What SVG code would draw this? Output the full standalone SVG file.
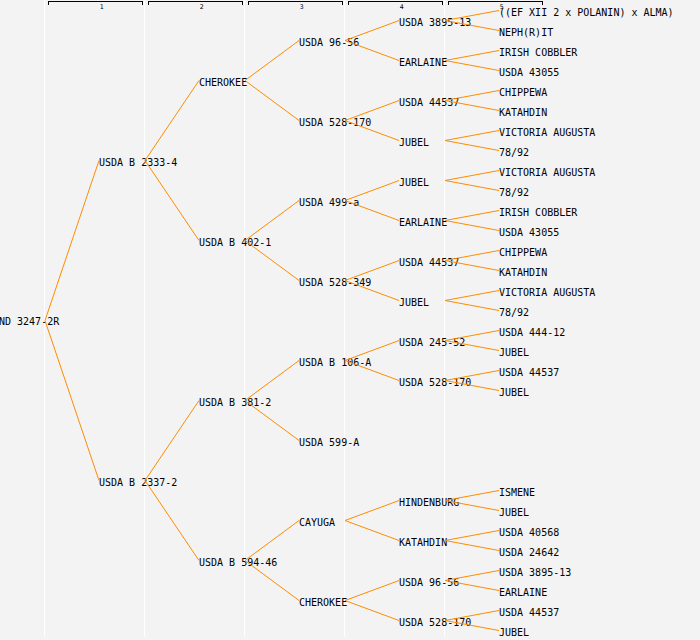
<svg xmlns="http://www.w3.org/2000/svg" width="700" height="640" viewBox="0 0 700 640">
<style>
.bg{fill:#f3f3f3}
.sep{stroke:#ffffff;stroke-width:1;shape-rendering:crispEdges}
.br{fill:none;stroke:#000;stroke-width:1;shape-rendering:crispEdges}
.hd{font-family:"DejaVu Sans Mono","Liberation Mono",monospace;font-size:6.5px;fill:#000;text-anchor:middle}
.n{font-family:"DejaVu Sans Mono","Liberation Mono",monospace;font-size:10px;fill:#000}
.c{stroke:#ff8c00;stroke-width:1;fill:none}
</style>
<rect class="bg" x="0" y="0" width="700" height="640"/>
<g id="separators">
<line class="sep" x1="44.5" y1="0" x2="44.5" y2="637"/>
<line class="sep" x1="144.5" y1="0" x2="144.5" y2="637"/>
<line class="sep" x1="244.5" y1="0" x2="244.5" y2="637"/>
<line class="sep" x1="344.5" y1="0" x2="344.5" y2="637"/>
<line class="sep" x1="444.5" y1="0" x2="444.5" y2="637"/>
</g>
<g id="headers">
<path class="br" d="M48.5,4.5V1.5H142.5V4.5"/><text class="hd" x="101.8" y="8.6">1</text>
<path class="br" d="M148.5,4.5V1.5H242.5V4.5"/><text class="hd" x="201.8" y="8.6">2</text>
<path class="br" d="M248.5,4.5V1.5H342.5V4.5"/><text class="hd" x="301.8" y="8.6">3</text>
<path class="br" d="M348.5,4.5V1.5H442.5V4.5"/><text class="hd" x="401.8" y="8.6">4</text>
<path class="br" d="M448.5,4.5V1.5H542.5V4.5"/><text class="hd" x="501.8" y="8.6">5</text>
</g>
<g id="n-root"><text class="n" x="-1" y="325">ND 3247-2R</text></g>
<g id="n-2-1"><text class="n" x="99" y="166">USDA B 2333-4</text></g>
<g id="n-2-2"><text class="n" x="99" y="486">USDA B 2337-2</text></g>
<g id="n-3-1"><text class="n" x="199" y="86">CHEROKEE</text></g>
<g id="n-3-2"><text class="n" x="199" y="246">USDA B 402-1</text></g>
<g id="n-3-3"><text class="n" x="199" y="406">USDA B 381-2</text></g>
<g id="n-3-4"><text class="n" x="199" y="566">USDA B 594-46</text></g>
<g id="n-4-1"><text class="n" x="299" y="46">USDA 96-56</text></g>
<g id="n-4-2"><text class="n" x="299" y="126">USDA 528-170</text></g>
<g id="n-4-3"><text class="n" x="299" y="206">USDA 499-a</text></g>
<g id="n-4-4"><text class="n" x="299" y="286">USDA 528-349</text></g>
<g id="n-4-5"><text class="n" x="299" y="366">USDA B 106-A</text></g>
<g id="n-4-6"><text class="n" x="299" y="446">USDA 599-A</text></g>
<g id="n-4-7"><text class="n" x="299" y="526">CAYUGA</text></g>
<g id="n-4-8"><text class="n" x="299" y="606">CHEROKEE</text></g>
<g id="n-5-1"><text class="n" x="399" y="26">USDA 3895-13</text></g>
<g id="n-5-2"><text class="n" x="399" y="66">EARLAINE</text></g>
<g id="n-5-3"><text class="n" x="399" y="106">USDA 44537</text></g>
<g id="n-5-4"><text class="n" x="399" y="146">JUBEL</text></g>
<g id="n-5-5"><text class="n" x="399" y="186">JUBEL</text></g>
<g id="n-5-6"><text class="n" x="399" y="226">EARLAINE</text></g>
<g id="n-5-7"><text class="n" x="399" y="266">USDA 44537</text></g>
<g id="n-5-8"><text class="n" x="399" y="306">JUBEL</text></g>
<g id="n-5-9"><text class="n" x="399" y="346">USDA 245-52</text></g>
<g id="n-5-10"><text class="n" x="399" y="386">USDA 528-170</text></g>
<g id="n-5-13"><text class="n" x="399" y="506">HINDENBURG</text></g>
<g id="n-5-14"><text class="n" x="399" y="546">KATAHDIN</text></g>
<g id="n-5-15"><text class="n" x="399" y="586">USDA 96-56</text></g>
<g id="n-5-16"><text class="n" x="399" y="626">USDA 528-170</text></g>
<g id="n-6-1"><text class="n" x="499" y="16">((EF XII 2 x POLANIN) x ALMA)</text></g>
<g id="n-6-2"><text class="n" x="499" y="36">NEPH(R)IT</text></g>
<g id="n-6-3"><text class="n" x="499" y="56">IRISH COBBLER</text></g>
<g id="n-6-4"><text class="n" x="499" y="76">USDA 43055</text></g>
<g id="n-6-5"><text class="n" x="499" y="96">CHIPPEWA</text></g>
<g id="n-6-6"><text class="n" x="499" y="116">KATAHDIN</text></g>
<g id="n-6-7"><text class="n" x="499" y="136">VICTORIA AUGUSTA</text></g>
<g id="n-6-8"><text class="n" x="499" y="156">78/92</text></g>
<g id="n-6-9"><text class="n" x="499" y="176">VICTORIA AUGUSTA</text></g>
<g id="n-6-10"><text class="n" x="499" y="196">78/92</text></g>
<g id="n-6-11"><text class="n" x="499" y="216">IRISH COBBLER</text></g>
<g id="n-6-12"><text class="n" x="499" y="236">USDA 43055</text></g>
<g id="n-6-13"><text class="n" x="499" y="256">CHIPPEWA</text></g>
<g id="n-6-14"><text class="n" x="499" y="276">KATAHDIN</text></g>
<g id="n-6-15"><text class="n" x="499" y="296">VICTORIA AUGUSTA</text></g>
<g id="n-6-16"><text class="n" x="499" y="316">78/92</text></g>
<g id="n-6-17"><text class="n" x="499" y="336">USDA 444-12</text></g>
<g id="n-6-18"><text class="n" x="499" y="356">JUBEL</text></g>
<g id="n-6-19"><text class="n" x="499" y="376">USDA 44537</text></g>
<g id="n-6-20"><text class="n" x="499" y="396">JUBEL</text></g>
<g id="n-6-25"><text class="n" x="499" y="496">ISMENE</text></g>
<g id="n-6-26"><text class="n" x="499" y="516">JUBEL</text></g>
<g id="n-6-27"><text class="n" x="499" y="536">USDA 40568</text></g>
<g id="n-6-28"><text class="n" x="499" y="556">USDA 24642</text></g>
<g id="n-6-29"><text class="n" x="499" y="576">USDA 3895-13</text></g>
<g id="n-6-30"><text class="n" x="499" y="596">EARLAINE</text></g>
<g id="n-6-31"><text class="n" x="499" y="616">USDA 44537</text></g>
<g id="n-6-32"><text class="n" x="499" y="636">JUBEL</text></g>
<g id="connectors">
<path class="c" d="M99,160.5L45,320.5L99,480.5"/>
<path class="c" d="M199,80.5L145,160.5L199,240.5"/>
<path class="c" d="M199,400.5L145,480.5L199,560.5"/>
<path class="c" d="M299,40.5L245,80.5L299,120.5"/>
<path class="c" d="M299,200.5L245,240.5L299,280.5"/>
<path class="c" d="M299,360.5L245,400.5L299,440.5"/>
<path class="c" d="M299,520.5L245,560.5L299,600.5"/>
<path class="c" d="M399,20.5L345,40.5L399,60.5"/>
<path class="c" d="M399,100.5L345,120.5L399,140.5"/>
<path class="c" d="M399,180.5L345,200.5L399,220.5"/>
<path class="c" d="M399,260.5L345,280.5L399,300.5"/>
<path class="c" d="M399,340.5L345,360.5L399,380.5"/>
<path class="c" d="M399,500.5L345,520.5L399,540.5"/>
<path class="c" d="M399,580.5L345,600.5L399,620.5"/>
<path class="c" d="M499,10.5L445,20.5L499,30.5"/>
<path class="c" d="M499,50.5L445,60.5L499,70.5"/>
<path class="c" d="M499,90.5L445,100.5L499,110.5"/>
<path class="c" d="M499,130.5L445,140.5L499,150.5"/>
<path class="c" d="M499,170.5L445,180.5L499,190.5"/>
<path class="c" d="M499,210.5L445,220.5L499,230.5"/>
<path class="c" d="M499,250.5L445,260.5L499,270.5"/>
<path class="c" d="M499,290.5L445,300.5L499,310.5"/>
<path class="c" d="M499,330.5L445,340.5L499,350.5"/>
<path class="c" d="M499,370.5L445,380.5L499,390.5"/>
<path class="c" d="M499,490.5L445,500.5L499,510.5"/>
<path class="c" d="M499,530.5L445,540.5L499,550.5"/>
<path class="c" d="M499,570.5L445,580.5L499,590.5"/>
<path class="c" d="M499,610.5L445,620.5L499,630.5"/>
</g>
</svg>
